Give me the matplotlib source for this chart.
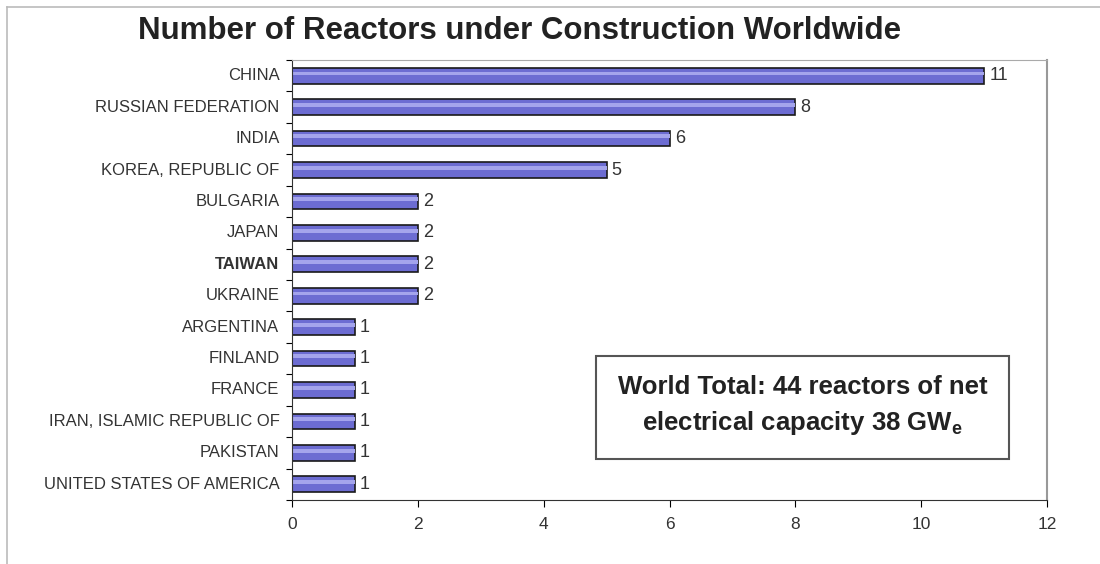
import matplotlib.pyplot as plt
from matplotlib.lines import Line2D
import numpy as np

countries = ["CHINA", "RUSSIAN FEDERATION", "INDIA", "KOREA, REPUBLIC OF",
             "BULGARIA", "JAPAN", "TAIWAN", "UKRAINE", "ARGENTINA", "FINLAND",
             "FRANCE", "IRAN, ISLAMIC REPUBLIC OF", "PAKISTAN",
             "UNITED STATES OF AMERICA"]
reactors = [11, 8, 6, 5, 2, 2, 2, 2, 1, 1, 1, 1, 1, 1]
x_ticks = [0, 2, 4, 6, 8, 10, 12]

plt.rcParams['font.family'] = ['Liberation Sans', 'DejaVu Sans']

fig = plt.figure(figsize=(11, 5.64), dpi=100)
ax = fig.add_axes([0.2655, 0.1135, 0.6865, 0.7801])

y = np.arange(len(countries))
ax.barh(y, reactors, height=0.5, color="#6c6cd2", edgecolor="#1a1a1a", linewidth=1.2)
# light highlight strip to mimic the gradient
ax.barh(y - 0.07, reactors, height=0.12, color="#a4a4ec", linewidth=0)

for yi, v in zip(y, reactors):
    ax.text(v + 0.08, yi, str(v), va="center", ha="left", fontsize=13, color="#333333")

ax.set_xlim(0, 12)
ax.set_ylim(len(countries) - 0.5, -0.5)
ax.set_xticks(x_ticks)
ax.set_xticklabels([str(t) for t in x_ticks], fontsize=12.5, color="#333333")
ax.tick_params(axis="x", length=5, direction="out", pad=7)

ax.set_yticks(np.arange(len(countries) + 1) - 0.5)
ax.set_yticklabels([])
ax.tick_params(axis="y", length=4, direction="out")
for yi, name in zip(y, countries):
    ax.text(-0.2, yi, name, ha="right", va="center", fontsize=12, color="#333333",
            fontweight="bold" if name == "TAIWAN" else "normal",
            transform=ax.transData)

ax.spines["left"].set_color("#333333")
ax.spines["bottom"].set_color("#333333")
ax.spines["right"].set_color("#999999")
ax.spines["right"].set_linewidth(1.5)
ax.spines["top"].set_color("#aaaaaa")
ax.spines["top"].set_linestyle((0, (2, 1)))

fig.text(0.472, 0.945, "Number of Reactors under Construction Worldwide",
         ha="center", va="center", fontsize=22.5, fontweight="bold", color="#222222")

ax.text(0.7295, 0.28, "World Total: 44 reactors of net\nelectrical capacity 38 GW$_\\mathregular{e}$",
        transform=fig.transFigure, ha="center", va="center", fontsize=18.5,
        fontweight="bold", color="#222222", linespacing=1.45,
        bbox=dict(boxstyle="square,pad=0.85", facecolor="white", edgecolor="#555555", linewidth=1.5))

# outer frame lines
fig.add_artist(Line2D([7 / 1100, 7 / 1100], [0, 1 - 7 / 564], color="#bbbbbb", linewidth=1.2))
fig.add_artist(Line2D([7 / 1100, 1], [1 - 7 / 564, 1 - 7 / 564], color="#bbbbbb", linewidth=1.2))

fig.savefig("out.png", dpi=100)
